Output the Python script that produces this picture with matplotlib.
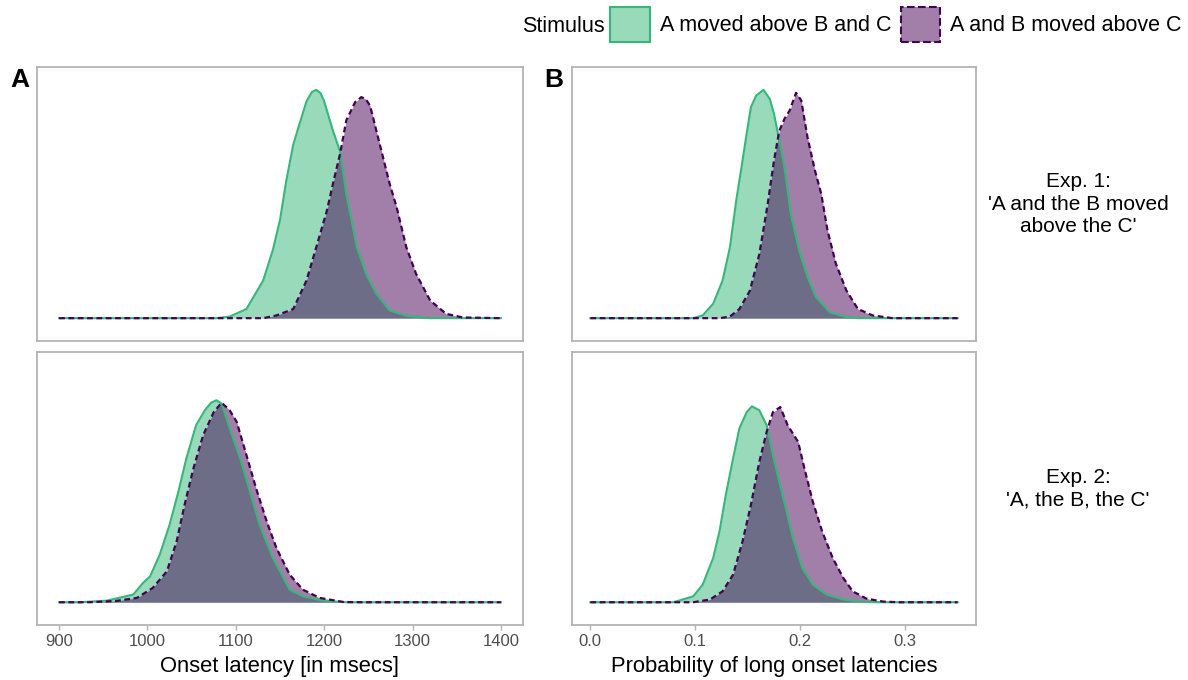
import matplotlib
matplotlib.use("Agg")
from matplotlib import pyplot as plt
from matplotlib.patches import Patch

plt.rcParams['font.family'] = ['Liberation Sans', 'DejaVu Sans']

# Density curves (x value, relative height; top-row peak = 1)
# Exp. 1, onset latency
lat1_green_x = [900, 1078, 1093, 1112, 1131, 1142, 1150, 1157, 1165, 1172, 1180, 1186, 1191,
                1196, 1200, 1210, 1218, 1225, 1237, 1248, 1259, 1274, 1293, 1320, 1400]
lat1_green_y = [0, 0, 0.007, 0.04, 0.165, 0.30, 0.43, 0.60, 0.76, 0.85, 0.95, 0.99, 1.0,
                0.985, 0.95, 0.82, 0.73, 0.545, 0.31, 0.19, 0.107, 0.034, 0.01, 0, 0]
lat1_purple_x = [900, 1131, 1146, 1165, 1180, 1191, 1203, 1210, 1218, 1225, 1235, 1242,
                 1247, 1252, 1263, 1274, 1282, 1293, 1304, 1320, 1338, 1357, 1400]
lat1_purple_y = [0, 0, 0.012, 0.04, 0.165, 0.31, 0.47, 0.59, 0.72, 0.866, 0.946, 0.968,
                 0.96, 0.93, 0.76, 0.59, 0.486, 0.31, 0.194, 0.077, 0.019, 0.003, 0]

# Exp. 2, onset latency
lat2_green_x = [900, 923, 954, 984, 995, 1003, 1014, 1025, 1035, 1044, 1055, 1065, 1072,
                1078, 1084, 1093, 1105, 1116, 1127, 1142, 1161, 1176, 1199, 1225, 1400]
lat2_green_y = [0, 0, 0.007, 0.034, 0.085, 0.114, 0.21, 0.34, 0.486, 0.632, 0.778, 0.844,
                0.877, 0.888, 0.873, 0.764, 0.632, 0.486, 0.34, 0.194, 0.055, 0.026, 0.007, 0, 0]
lat2_purple_x = [900, 935, 965, 988, 1006, 1022, 1033, 1042, 1052, 1063, 1075, 1084, 1093,
                 1101, 1112, 1123, 1135, 1146, 1161, 1176, 1195, 1222, 1244, 1400]
lat2_purple_y = [0, 0, 0.006, 0.019, 0.063, 0.136, 0.267, 0.428, 0.588, 0.734, 0.836, 0.877,
                 0.844, 0.793, 0.647, 0.5, 0.355, 0.238, 0.121, 0.055, 0.019, 0.001, 0, 0]

# Exp. 1, probability of long latencies
prob1_green_x = [0, 0.098, 0.107, 0.117, 0.126, 0.133, 0.139, 0.144, 0.149, 0.153, 0.158,
                 0.165, 0.171, 0.175, 0.180, 0.185, 0.191, 0.199, 0.207, 0.215, 0.228,
                 0.244, 0.256, 0.35]
prob1_green_y = [0, 0, 0.012, 0.063, 0.165, 0.31, 0.515, 0.66, 0.81, 0.924, 0.975,
                 1.0, 0.96, 0.895, 0.78, 0.66, 0.457, 0.296, 0.18, 0.092, 0.026,
                 0.004, 0, 0]
prob1_purple_x = [0, 0.123, 0.133, 0.142, 0.152, 0.161, 0.169, 0.175, 0.180, 0.185, 0.190,
                  0.196, 0.201, 0.207, 0.214, 0.220, 0.226, 0.234, 0.244, 0.255, 0.269,
                  0.288, 0.35]
prob1_purple_y = [0, 0, 0.007, 0.04, 0.12, 0.28, 0.5, 0.69, 0.82, 0.873, 0.91,
                  0.987, 0.953, 0.79, 0.647, 0.545, 0.384, 0.238, 0.121, 0.04, 0.012,
                  0, 0]

# Exp. 2, probability of long latencies
prob2_green_x = [0, 0.079, 0.098, 0.107, 0.117, 0.123, 0.129, 0.136, 0.142, 0.149, 0.154,
                 0.161, 0.168, 0.174, 0.180, 0.187, 0.193, 0.202, 0.212, 0.225, 0.241,
                 0.256, 0.272, 0.35]
prob2_green_y = [0, 0, 0.026, 0.077, 0.194, 0.31, 0.47, 0.632, 0.764, 0.836, 0.861,
                 0.844, 0.778, 0.647, 0.53, 0.4, 0.282, 0.15, 0.077, 0.034, 0.012,
                 0.003, 0, 0]
prob2_purple_x = [0, 0.098, 0.114, 0.126, 0.136, 0.145, 0.153, 0.161, 0.168, 0.174, 0.181,
                  0.188, 0.198, 0.204, 0.212, 0.221, 0.231, 0.241, 0.250, 0.263, 0.279,
                  0.294, 0.35]
prob2_purple_y = [0, 0, 0.012, 0.048, 0.121, 0.267, 0.428, 0.617, 0.749, 0.836, 0.858,
                  0.778, 0.705, 0.588, 0.442, 0.31, 0.194, 0.107, 0.048, 0.016, 0.003,
                  0, 0]

stimulus_labels = ['A moved above B and C', 'A and B moved above C']
row_labels = ["Exp. 1:\n'A and the B moved\nabove the C'", "Exp. 2:\n'A, the B, the C'"]
lat_ticks = [900, 1000, 1100, 1200, 1300, 1400]
prob_ticks = [0.0, 0.1, 0.2, 0.3]

GREEN = '#35B779'
PURPLE = '#440154'
BORDER = '#B3B3B3'

W, H = 1188, 680
fig = plt.figure(figsize=(W / 100, H / 100), dpi=100)


def px_axes(x0, y0, x1, y1):
    # pixel box (top-left origin) -> figure axes
    return fig.add_axes([x0 / W, 1 - y1 / H, (x1 - x0) / W, (y1 - y0) / H])


def draw_panel(ax, gx, gy, px, py, xlim, ticks, show_ticks):
    ax.fill_between(gx, gy, color=GREEN, alpha=0.5, lw=0)
    ax.plot(gx, gy, color=GREEN, lw=1.5, solid_joinstyle='round')
    ax.fill_between(px, py, color=PURPLE, alpha=0.5, lw=0)
    ax.plot(px, py, color=PURPLE, lw=1.6, linestyle=(0, (2.6, 1.6)))
    ax.set_xlim(*xlim)
    ax.set_ylim(-0.1, 1.1)
    ax.set_yticks([])
    ax.set_xticks(ticks)
    for s in ax.spines.values():
        s.set_color(BORDER)
        s.set_linewidth(1.3)
    ax.tick_params(axis='x', length=3.5, width=1, color=BORDER,
                   labelcolor='#4D4D4D', labelsize=12, pad=3)
    if not show_ticks:
        ax.tick_params(axis='x', length=0, labelbottom=False)


rows = [(67, 341), (352, 625)]
cols = [(37, 523), (572, 976)]

ax_a1 = px_axes(cols[0][0], rows[0][0], cols[0][1], rows[0][1])
draw_panel(ax_a1, lat1_green_x, lat1_green_y, lat1_purple_x, lat1_purple_y,
           (875, 1425), lat_ticks, False)
ax_b1 = px_axes(cols[1][0], rows[0][0], cols[1][1], rows[0][1])
draw_panel(ax_b1, prob1_green_x, prob1_green_y, prob1_purple_x, prob1_purple_y,
           (-0.0175, 0.3675), prob_ticks, False)
ax_a2 = px_axes(cols[0][0], rows[1][0], cols[0][1], rows[1][1])
draw_panel(ax_a2, lat2_green_x, lat2_green_y, lat2_purple_x, lat2_purple_y,
           (875, 1425), lat_ticks, True)
ax_b2 = px_axes(cols[1][0], rows[1][0], cols[1][1], rows[1][1])
draw_panel(ax_b2, prob2_green_x, prob2_green_y, prob2_purple_x, prob2_purple_y,
           (-0.0175, 0.3675), prob_ticks, True)

ax_a2.set_xlabel('Onset latency [in msecs]', fontsize=15.8, labelpad=5)
ax_b2.set_xlabel('Probability of long onset latencies', fontsize=15.8, labelpad=5)

# facet strip labels on the right
for (y0, y1), lab in zip(rows, row_labels):
    fig.text(1078 / W, 1 - (y0 + y1) / 2 / H, lab, ha='center', va='center',
             fontsize=15, linespacing=1.22)

# panel letters
fig.text(20 / W, 1 - 80 / H, 'A', ha='center', va='center', fontsize=19, fontweight='bold')
fig.text(554 / W, 1 - 80 / H, 'B', ha='center', va='center', fontsize=19, fontweight='bold')

# legend on top
handles = [Patch(facecolor=(0.208, 0.718, 0.475, 0.5), edgecolor=GREEN, lw=1.5),
           Patch(facecolor=(0.267, 0.004, 0.329, 0.5), edgecolor=PURPLE, lw=1.5, linestyle='--')]
fig.legend(handles, stimulus_labels, loc='upper right', bbox_to_anchor=(1182 / W, 1 - 7 / H),
           ncol=2, frameon=False, fontsize=15.5, handlelength=1.85, handleheight=2.15,
           handletextpad=0.47, columnspacing=0.42, borderpad=0, borderaxespad=0)
fig.text(605 / W, 1 - 26 / H, 'Stimulus', ha='right', va='center', fontsize=15.5)

plt.savefig('out.png', dpi=100)
